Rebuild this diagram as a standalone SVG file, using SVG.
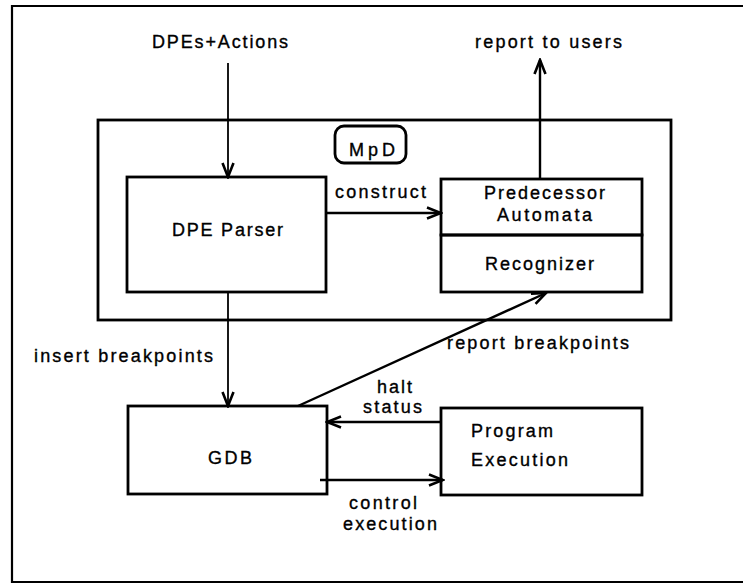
<svg xmlns="http://www.w3.org/2000/svg" width="743" height="584" viewBox="0 0 743 584">
<style>
  text { font-family: "Liberation Sans", Arial, sans-serif; font-size: 18px; fill: #000; stroke: #000; stroke-width: 0.35; }
  .box { fill: none; stroke: #000; stroke-width: 2.8; }
  .frame { fill: none; stroke: #000; stroke-width: 2.2; }
  .conn { fill: none; stroke: #000; stroke-width: 2.4; }
  .thin { fill: none; stroke: #000; stroke-width: 1.8; }
</style>
<defs>
  <marker id="arr" markerUnits="userSpaceOnUse" markerWidth="20" markerHeight="16" viewBox="0 0 20 16" refX="18" refY="8" orient="auto">
    <path d="M4,2.5 L18,8 L4,13.5" fill="none" stroke="#000" stroke-width="2.6"/>
  </marker>
</defs>
<rect width="743" height="584" fill="#fff"/>
<path class="frame" d="M743,6 H12 V582 H743"/>

<g id="mpd">
  <rect class="box" x="98" y="120" width="573" height="200"/>
  <rect class="box" x="335" y="126" width="71" height="37" rx="9"/>
  <text x="349" y="156" font-size="19" textLength="46" lengthAdjust="spacing">MpD</text>
</g>

<g id="dpe-parser">
  <rect class="box" x="127" y="177" width="199" height="115"/>
  <text x="172" y="236" textLength="111" lengthAdjust="spacing">DPE Parser</text>
</g>

<g id="predecessor-automata">
  <rect class="box" x="441" y="179" width="201" height="56"/>
  <text x="484" y="199" textLength="121" lengthAdjust="spacing">Predecessor</text>
  <text x="497" y="221" textLength="95" lengthAdjust="spacing">Automata</text>
</g>

<g id="recognizer">
  <rect class="box" x="441" y="235" width="201" height="57"/>
  <text x="485" y="270" textLength="109" lengthAdjust="spacing">Recognizer</text>
</g>

<g id="gdb">
  <rect class="box" x="128" y="406" width="199" height="88"/>
  <text x="208" y="464" textLength="44" lengthAdjust="spacing">GDB</text>
</g>

<g id="program-execution">
  <rect class="box" x="441" y="408" width="201" height="87"/>
  <text x="471" y="437" textLength="82" lengthAdjust="spacing">Program</text>
  <text x="471" y="466" textLength="97" lengthAdjust="spacing">Execution</text>
</g>

<g id="connectors">
  <line class="thin" x1="228" y1="63" x2="228" y2="177" marker-end="url(#arr)"/>
  <line class="conn" x1="540" y1="179" x2="540" y2="60" marker-end="url(#arr)"/>
  <line class="conn" x1="326" y1="213" x2="441" y2="213" marker-end="url(#arr)"/>
  <line class="thin" x1="228" y1="292" x2="228" y2="406" marker-end="url(#arr)"/>
  <line class="conn" x1="298" y1="406" x2="546" y2="293" marker-end="url(#arr)"/>
  <line class="conn" x1="441" y1="422" x2="327" y2="422" marker-end="url(#arr)"/>
  <line class="conn" x1="320" y1="480" x2="443" y2="480" marker-end="url(#arr)"/>
  <text x="152" y="48" textLength="136" lengthAdjust="spacing">DPEs+Actions</text>
  <text x="475" y="48" textLength="147" lengthAdjust="spacing">report to users</text>
  <text x="335" y="198" textLength="91" lengthAdjust="spacing">construct</text>
  <text x="34" y="362" textLength="179" lengthAdjust="spacing">insert breakpoints</text>
  <text x="447" y="349" textLength="182" lengthAdjust="spacing">report breakpoints</text>
  <text x="377" y="393" textLength="35" lengthAdjust="spacing">halt</text>
  <text x="363" y="413" textLength="59" lengthAdjust="spacing">status</text>
  <text x="349" y="509" textLength="68" lengthAdjust="spacing">control</text>
  <text x="343" y="530" textLength="94" lengthAdjust="spacing">execution</text>
</g>
</svg>
